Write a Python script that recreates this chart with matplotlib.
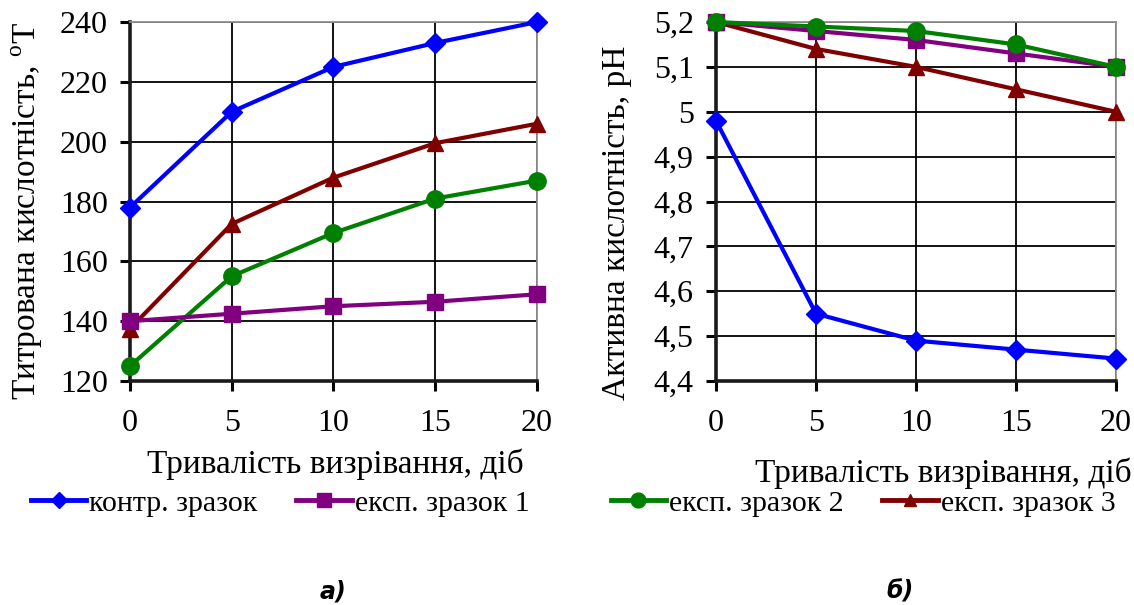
import numpy as np
import matplotlib.pyplot as plt
from matplotlib.lines import Line2D

plt.rcParams['font.family'] = ['Liberation Serif', 'DejaVu Serif']
plt.rcParams['mathtext.fontset'] = 'custom'
plt.rcParams['mathtext.rm'] = 'Liberation Serif'

days = [0, 5, 10, 15, 20]
names = ['контр. зразок', 'експ. зразок 1', 'експ. зразок 2', 'експ. зразок 3']

# titratable acidity, °T
tit_control = [178, 210, 225, 233, 240]
tit_exp1 = [140, 142.5, 145, 146.5, 149]
tit_exp2 = [125, 155, 169.5, 181, 187]
tit_exp3 = [137.5, 172.5, 188, 199.5, 206]

# active acidity, pH
ph_control = [4.98, 4.55, 4.49, 4.47, 4.45]
ph_exp1 = [5.2, 5.18, 5.16, 5.13, 5.1]
ph_exp2 = [5.2, 5.19, 5.18, 5.15, 5.1]
ph_exp3 = [5.2, 5.14, 5.1, 5.05, 5.0]

ph_ticks = [4.4, 4.5, 4.6, 4.7, 4.8, 4.9, 5.0, 5.1, 5.2]
ph_labels = ['4,4', '4,5', '4,6', '4,7', '4,8', '4,9', '5', '5,1', '5,2']

colors = ['#0000ff', '#800080', '#008000', '#800000']
markers = ['D', 's', 'o', '^']
msizes = [10, 11.5, 12.5, 11]

fig = plt.figure(figsize=(11.34, 6.05), dpi=100)
ax1 = fig.add_axes([0.1146, 0.3702, 0.3589, 0.5934])
ax2 = fig.add_axes([0.6314, 0.3702, 0.3527, 0.5934])


def style(ax):
    ax.set_xlim(0, 20)
    ax.set_xticks(days)
    ax.grid(True, color='black', lw=1.3)
    ax.set_axisbelow(True)
    for s in ['left', 'bottom']:
        ax.spines[s].set_linewidth(2.6)
        ax.spines[s].set_color('#1a1a1a')
    for s in ['top', 'right']:
        ax.spines[s].set_linewidth(1.3)
        ax.spines[s].set_color('#909090')
    ax.tick_params(axis='both', labelsize=23, width=2.2, length=7, direction='out')
    ax.tick_params(axis='y', pad=9)
    ax.tick_params(axis='x', pad=13)


tit_series = [tit_control, tit_exp1, tit_exp2, tit_exp3]
ph_series = [ph_control, ph_exp1, ph_exp2, ph_exp3]
for i in [0, 3, 2, 1]:
    ax1.plot(days, tit_series[i], color=colors[i], lw=3, marker=markers[i],
             ms=msizes[i], clip_on=False, zorder=3)
for i in [3, 1, 2, 0]:
    ax2.plot(days, ph_series[i], color=colors[i], lw=3, marker=markers[i],
             ms=msizes[i], clip_on=False, zorder=3)

style(ax1)
ax1.set_ylim(120, 240)
ax1.set_yticks(np.arange(120, 241, 20))
ax1.set_ylabel('Титрована кислотність, $^{\\mathrm{o}}$Т', fontsize=24, va='center')
ax1.yaxis.set_label_coords(-0.253, 0.474)

style(ax2)
ax2.set_ylim(4.4, 5.2)
ax2.set_yticks(ph_ticks)
ax2.set_yticklabels(ph_labels)
ax2.set_ylabel('Активна кислотність, рН', fontsize=24, va='center')
ax2.yaxis.set_label_coords(-0.2475, 0.44)

fig.text(0.2954, 0.218, 'Тривалість визрівання, діб', fontsize=24, ha='center', va='baseline')
fig.text(0.832, 0.203, 'Тривалість визрівання, діб', fontsize=24, ha='center', va='baseline')

handles = [Line2D([], [], color=colors[i], lw=3.5, marker=markers[i], ms=msizes[i] * 0.85)
           for i in range(4)]
leg_kw = dict(frameon=False, fontsize=21.5, ncol=2, handlelength=1.85, handletextpad=0.1,
              columnspacing=1.3)
fig.legend(handles[:2], names[:2], loc='center', bbox_to_anchor=(0.247, 0.168), **leg_kw)
fig.legend(handles[2:], names[2:], loc='center', bbox_to_anchor=(0.761, 0.168), **leg_kw)

fig.text(0.2937, 0.023, 'а)', fontsize=17, ha='center', va='center',
         family='DejaVu Sans', weight='bold', style='italic')
fig.text(0.794, 0.023, 'б)', fontsize=17, ha='center', va='center',
         family='DejaVu Sans', weight='bold', style='italic')

fig.savefig('out.png', dpi=100)
